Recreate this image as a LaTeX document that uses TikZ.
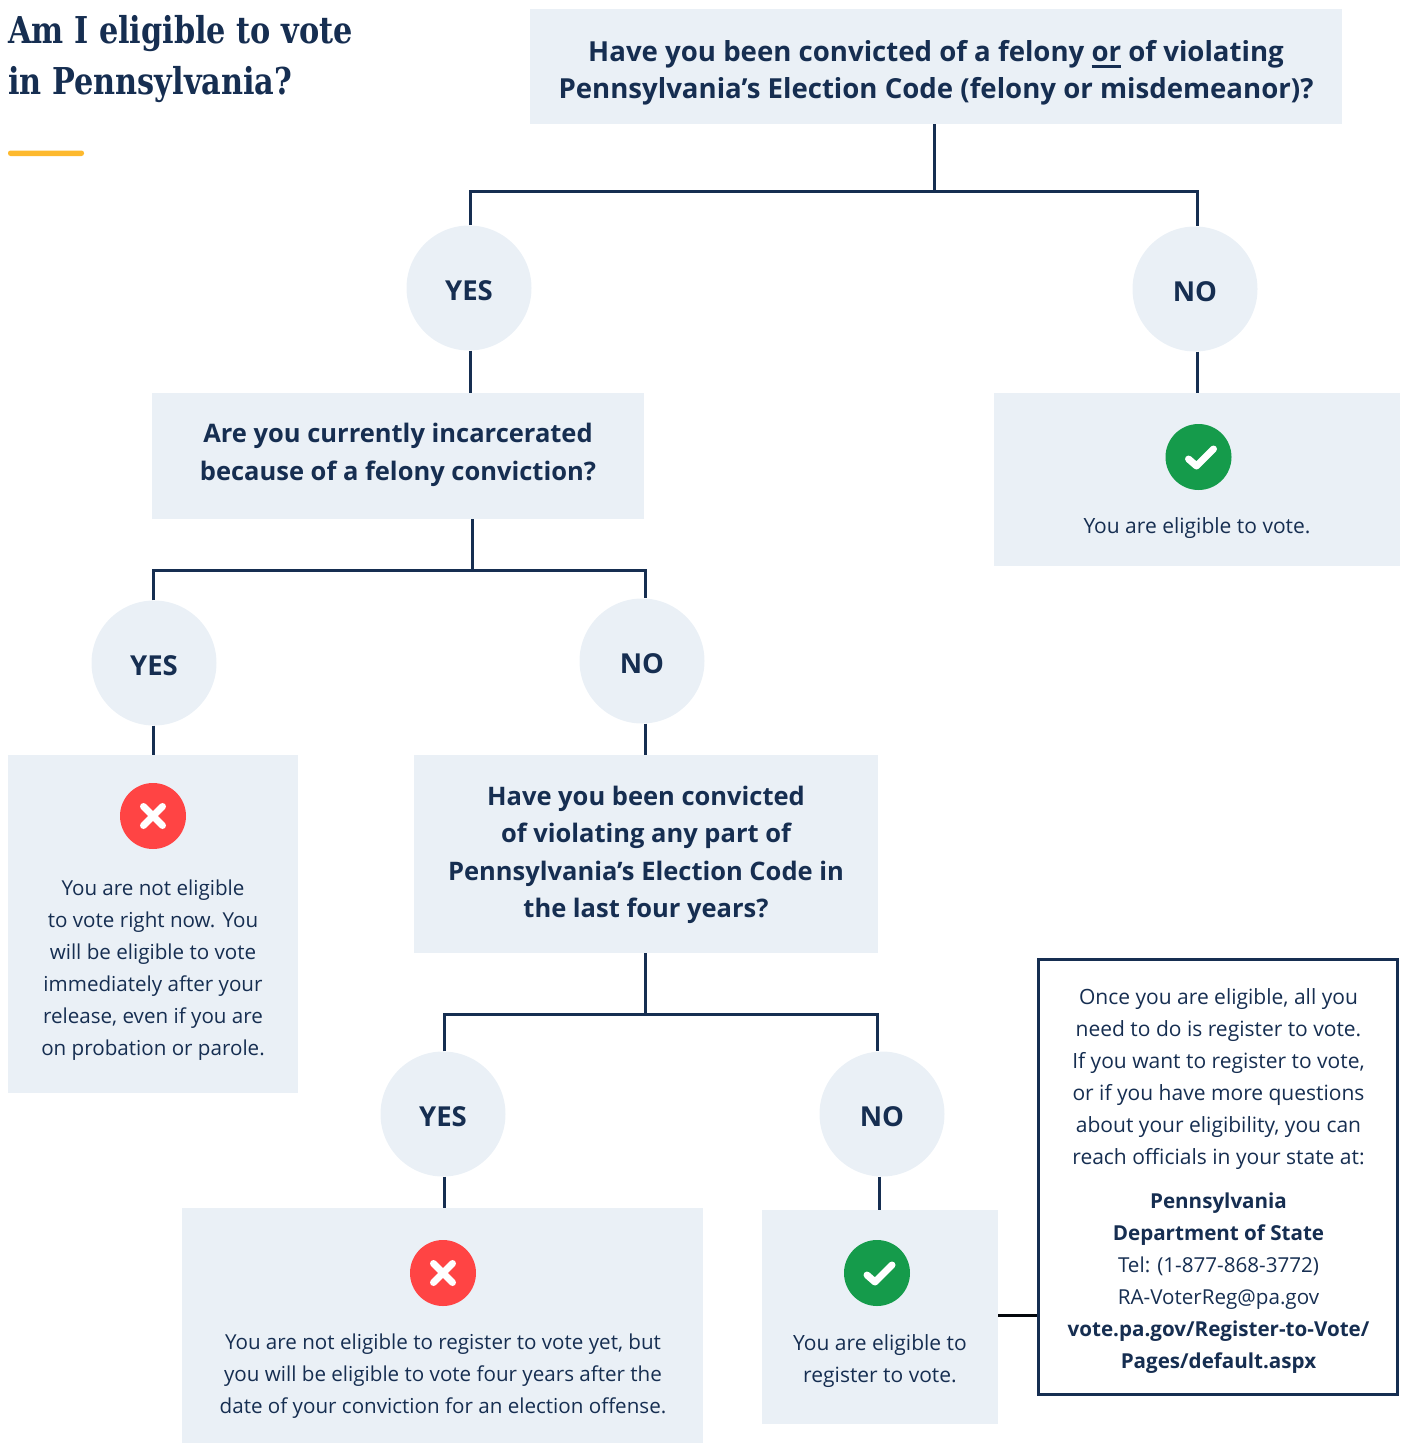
\documentclass[tikz,border=0pt]{standalone}
\usepackage{fontspec}
\setmainfont{Open Sans}
\newfontfamily\titlefont[FakeStretch=0.82]{DejaVu Serif}
\definecolor{navy}{HTML}{162E51}
\definecolor{pale}{HTML}{EAF0F6}
\definecolor{okgreen}{HTML}{159B4B}
\definecolor{nored}{HTML}{FF4444}
\definecolor{gold}{HTML}{FDB92E}
\newlength{\ulwd}
\newcommand{\thickul}[1]{\settowidth{\ulwd}{#1}\leavevmode\rlap{\rule[-6pt]{\ulwd}{2.8pt}}#1}
\newcommand{\anstext}[1]{\raisebox{-12pt}[0pt][0pt]{#1}}
\tikzset{
  x=1pt,y=-1pt,
  panel/.style={fill=pale,inner sep=0pt},
  ans/.style={circle,fill=pale,inner sep=0pt,minimum size=125pt,text=navy,font=\fontsize{27.5}{32}\selectfont\bfseries},
  conn/.style={draw=navy,line width=3pt},
  iconyes/.style={circle,fill=okgreen,inner sep=0pt,minimum size=66pt},
  iconno/.style={circle,fill=nored,inner sep=0pt,minimum size=66pt},
  glyph/.style={draw=white,line width=7pt,line cap=round,line join=round},
  txt/.style={text=navy,inner sep=0pt,align=center,font=\fontsize{21}{32}\selectfont},
  txtsmall/.style={text=navy,inner sep=0pt,align=center,font=\fontsize{20.6}{32}\selectfont},
  qbig/.style={text=navy,inner sep=0pt,align=center,font=\fontsize{27.6}{37}\selectfont\bfseries},
  qsmall/.style={text=navy,inner sep=0pt,align=center,font=\fontsize{25.5}{37.5}\selectfont\bfseries},
  titletext/.style={anchor=base west,inner sep=0pt,text=navy,font=\titlefont\fontsize{37}{40}\selectfont\bfseries},
}
\begin{document}
\begin{tikzpicture}
\useasboundingbox (0,0) rectangle (1403,1443);
% title
\node[titletext] (t1) at (8,43) {Am I eligible to vote};
\node[titletext] (t2) at (8,94) {in Pennsylvania?};
\fill[gold,rounded corners=2.5pt] (8,150.5) rectangle (84,156);
% boxes
\node[panel,minimum width=812pt,minimum height=115pt] (q1) at (936,66.5) {};
\node[panel,minimum width=492pt,minimum height=126pt] (q2) at (398,456) {};
\node[panel,minimum width=406pt,minimum height=173pt] (e1) at (1197,479.5) {};
\node[panel,minimum width=290pt,minimum height=338pt] (ne) at (153,924) {};
\node[panel,minimum width=464pt,minimum height=198pt] (q3) at (646,854) {};
\node[panel,minimum width=521pt,minimum height=235pt] (nr) at (442.5,1325.5) {};
\node[panel,minimum width=236pt,minimum height=214pt] (er) at (880,1317) {};
\node[draw=navy,line width=3pt,fill=white,inner sep=0pt,minimum width=359.5pt,minimum height=434.5pt] (info) at (1218.2,1177) {};
% question texts
\node[qbig] (q1t) at (936,73) {Have you been convicted of a felony \thickul{or} of violating\\Pennsylvania’s Election Code (felony or misdemeanor)?};
\node[qsmall] (q2t) at (398,455) {Are you currently incarcerated\\because of a felony conviction?};
\node[qsmall] (q3t) at (646,855) {Have you been convicted\\of violating any part of\\Pennsylvania’s Election Code in\\the last four years?};
% answers
\node[ans] (y1) at (469,288) {\anstext{YES}};
\node[ans] (n1) at (1195,289) {\anstext{NO}};
\node[ans] (y2) at (154,663) {\anstext{YES}};
\node[ans] (n2) at (642,661) {\anstext{NO}};
\node[ans] (y3) at (443,1114) {\anstext{YES}};
\node[ans] (n3) at (882,1114) {\anstext{NO}};
% connectors
\coordinate (j1) at (934,191);
\coordinate (j2) at (472,570);
\coordinate (j3) at (645,1014);
\draw[conn] (q1.south -| j1) -- (j1);
\draw[conn] (y1.north -| 470,0) -- (470,191) -- (1197,191) -- (n1.north -| 1197,0);
\draw[conn] (y1.south -| 470,0) -- (q2.north -| 470,0);
\draw[conn] (n1.south -| 1197,0) -- (e1.north -| 1197,0);
\draw[conn] (q2.south -| j2) -- (j2);
\draw[conn] (y2.north -| 153,0) -- (153,570) -- (645,570) -- (n2.north -| 645,0);
\draw[conn] (y2.south -| 153,0) -- (ne.north -| 153,0);
\draw[conn] (n2.south -| 645,0) -- (q3.north -| 645,0);
\draw[conn] (q3.south -| j3) -- (j3);
\draw[conn] (y3.north -| 444,0) -- (444,1014) -- (877,1014) -- (n3.north -| 877,0);
\draw[conn] (y3.south -| 444,0) -- (nr.north -| 444,0);
\draw[conn] (n3.south -| 879,0) -- (er.north -| 879,0);
\draw[draw=black!85!navy,line width=3pt] (er.east |- 0,1315) -- (info.west |- 0,1315);
% icons
\node[iconyes] (ic1) at (1198.5,457) {};
\draw[glyph] ([shift={(-10,2)}]ic1.center) -- ([shift={(-2,9)}]ic1.center) -- ([shift={(15,-8)}]ic1.center);
\node[iconno] (ic2) at (153,816) {};
\draw[glyph] ([shift={(-9.5,-9.5)}]ic2.center) -- ([shift={(9.5,9.5)}]ic2.center);
\draw[glyph] ([shift={(9.5,-9.5)}]ic2.center) -- ([shift={(-9.5,9.5)}]ic2.center);
\node[iconno] (ic3) at (443,1273) {};
\draw[glyph] ([shift={(-9.5,-9.5)}]ic3.center) -- ([shift={(9.5,9.5)}]ic3.center);
\draw[glyph] ([shift={(9.5,-9.5)}]ic3.center) -- ([shift={(-9.5,9.5)}]ic3.center);
\node[iconyes] (ic4) at (877,1273) {};
\draw[glyph] ([shift={(-10,2)}]ic4.center) -- ([shift={(-2,9)}]ic4.center) -- ([shift={(15,-8)}]ic4.center);
% body texts
\node[txt] (x1) at (1197,528) {You are eligible to vote.};
\node[txtsmall] (x2) at (153,970) {You are not eligible\\to vote right now. You\\will be eligible to vote\\immediately after your\\release, even if you are\\on probation or parole.};
\node[txtsmall] (x3) at (443,1376) {You are not eligible to register to vote yet, but\\you will be eligible to vote four years after the\\date of your conviction for an election offense.};
\node[txt] (x4) at (880,1361) {You are eligible to\\register to vote.};
\node[txt] (x5) at (1218.5,1079) {Once you are eligible, all you\\need to do is register to vote.\\If you want to register to vote,\\or if you have more questions\\about your eligibility, you can\\reach officials in your state at:};
\node[txtsmall] (x6) at (1218.5,1283) {\textbf{Pennsylvania}\\\textbf{Department of State}\\Tel: (1-877-868-3772)\\RA-VoterReg@pa.gov\\\textbf{vote.pa.gov/Register-to-Vote/}\\\textbf{Pages/default.aspx}};
\end{tikzpicture}
\end{document}
